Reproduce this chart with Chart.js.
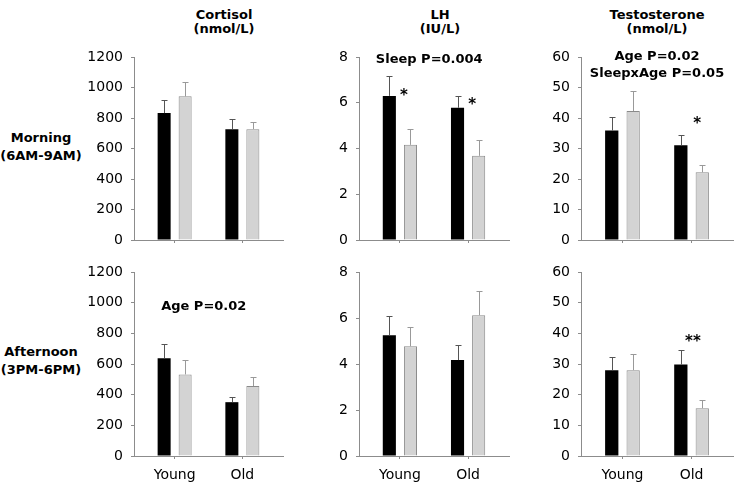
<!DOCTYPE html>
<html>
<head>
<meta charset="utf-8">
<script src="https://cdn.jsdelivr.net/npm/chart.js@4/dist/chart.umd.min.js"></script>
<style>
  body { margin: 0; background: #fff; }
  #wrap { position: relative; width: 736px; height: 486px; font-family: "DejaVu Sans", sans-serif; color: #000; }
  canvas { position: absolute; }
  .lbl { position: absolute; font-weight: bold; font-size: 13px; text-align: center; line-height: 14px; }
  .row { position: absolute; left: 0; width: 82px; font-weight: bold; font-size: 13px; text-align: center; line-height: 18px; }
</style>
</head>
<body>
<div id="wrap">
  <div class="lbl" style="left:174px; top:8px; width:100px;">Cortisol<br>(nmol/L)</div>
  <div class="lbl" style="left:390px; top:8px; width:100px;">LH<br>(IU/L)</div>
  <div class="lbl" style="left:597px; top:8px; width:120px;">Testosterone<br>(nmol/L)</div>
  <div class="row" style="top:129px;">Morning<br>(6AM-9AM)</div>
  <div class="row" style="top:343px;">Afternoon<br>(3PM-6PM)</div>
  <canvas id="c1" width="214" height="205" style="left:76px; top:45px;"></canvas>
  <canvas id="c2" width="215" height="205" style="left:300px; top:45px;"></canvas>
  <canvas id="c3" width="215" height="205" style="left:521px; top:45px;"></canvas>
  <canvas id="c4" width="214" height="226" style="left:76px; top:260px;"></canvas>
  <canvas id="c5" width="215" height="226" style="left:300px; top:260px;"></canvas>
  <canvas id="c6" width="215" height="226" style="left:521px; top:260px;"></canvas>
</div>
<script>
// groups on the x axis
const ageGroups = ['Young', 'Old'];

// black bars / grey bars, with the plus error of each
const cortisolMorningBlack = [832, 727];
const cortisolMorningBlackErr = [88, 66];
const cortisolMorningGrey = [942, 727];
const cortisolMorningGreyErr = [94, 46];

const lhMorningBlack = [6.3, 5.78];
const lhMorningBlackErr = [0.85, 0.53];
const lhMorningGrey = [4.16, 3.68];
const lhMorningGreyErr = [0.69, 0.68];

const testoMorningBlack = [35.9, 31.1];
const testoMorningBlackErr = [4.3, 3.4];
const testoMorningGrey = [42.3, 22.2];
const testoMorningGreyErr = [6.6, 2.3];

const cortisolAfternoonBlack = [637, 351];
const cortisolAfternoonBlackErr = [92, 37];
const cortisolAfternoonGrey = [532, 456];
const cortisolAfternoonGreyErr = [92, 61];

const lhAfternoonBlack = [5.25, 4.17];
const lhAfternoonBlackErr = [0.82, 0.67];
const lhAfternoonGrey = [4.77, 6.12];
const lhAfternoonGreyErr = [0.86, 1.05];

const testoAfternoonBlack = [28.0, 29.8];
const testoAfternoonBlackErr = [4.2, 4.9];
const testoAfternoonGrey = [28.0, 15.6];
const testoAfternoonGreyErr = [5.4, 2.5];

Chart.defaults.font.family = '"DejaVu Sans", sans-serif';
Chart.defaults.font.size = 14;
Chart.defaults.color = '#000';

const axisGrey = '#8c8c8c';

// plus-only error bars on top of each bar
const errorBars = {
  id: 'errorBars',
  afterDatasetsDraw(chart) {
    const ctx = chart.ctx;
    const y = chart.scales.y;
    chart.data.datasets.forEach((ds, i) => {
      chart.getDatasetMeta(i).data.forEach((bar, j) => {
        const top = Math.round(y.getPixelForValue(ds.data[j].y + ds.errors[j])) + 0.5;
        const cx = Math.round(bar.x) + 0.5;
        ctx.save();
        ctx.strokeStyle = ds.errorColor;
        ctx.lineWidth = 1;
        ctx.beginPath();
        ctx.moveTo(cx, bar.y);
        ctx.lineTo(cx, top);
        ctx.moveTo(cx - 3, top);
        ctx.lineTo(cx + 3, top);
        ctx.stroke();
        ctx.restore();
      });
    });
  }
};

// significance notes placed in data units
const notes = {
  id: 'notes',
  afterDraw(chart, args, opts) {
    const ctx = chart.ctx;
    (opts.items || []).forEach(n => {
      ctx.save();
      ctx.font = 'bold ' + (n.size || 13) + 'px "DejaVu Sans", sans-serif';
      ctx.fillStyle = '#000';
      ctx.textAlign = 'center';
      ctx.textBaseline = 'middle';
      ctx.fillText(n.text, chart.scales.x.getPixelForValue(n.x), chart.scales.y.getPixelForValue(n.y));
      ctx.restore();
    });
  }
};

function points(vals) {
  return vals.map((v, i) => ({ x: i, y: v }));
}

function makePanel(id, black, blackErr, grey, greyErr, yMax, step, yWidth, padRight, bottomRow, items) {
  new Chart(document.getElementById(id), {
    type: 'bar',
    data: {
      datasets: [
        {
          data: points(black), errors: blackErr, errorColor: '#555',
          backgroundColor: '#000', borderWidth: 0,
          categoryPercentage: 0.62, barPercentage: 0.62
        },
        {
          data: points(grey), errors: greyErr, errorColor: '#999',
          backgroundColor: '#d3d3d3', borderColor: '#8a8a8a', borderWidth: 1,
          categoryPercentage: 0.62, barPercentage: 0.62
        }
      ]
    },
    options: {
      responsive: false,
      animation: false,
      layout: { padding: { top: 12, right: padRight, bottom: 0, left: 0 } },
      plugins: { legend: { display: false }, tooltip: { enabled: false }, notes: { items: items } },
      scales: {
        x: {
          type: 'linear', min: -0.6, max: 1.6, offset: false, bounds: 'data',
          afterBuildTicks: s => { s.ticks = ageGroups.map((g, i) => ({ value: i })); },
          afterFit: s => { s.height = bottomRow ? 30 : 10; s.paddingLeft = 0; s.paddingRight = 0; },
          grid: { offset: false, drawOnChartArea: false, drawTicks: true, tickLength: 3, color: axisGrey },
          border: { color: axisGrey },
          ticks: {
            padding: 8,
            maxRotation: 0,
            autoSkip: false,
            callback: v => bottomRow ? ageGroups[v] : ''
          }
        },
        y: {
          min: 0, max: yMax,
          afterFit: s => { s.width = yWidth; s.paddingTop = 0; s.paddingBottom = 0; },
          grid: { drawOnChartArea: false, drawTicks: true, tickLength: 3, color: axisGrey },
          border: { color: axisGrey },
          ticks: { stepSize: step, padding: 8, callback: v => String(v) }
        }
      }
    },
    plugins: [errorBars, notes]
  });
}

makePanel('c1', cortisolMorningBlack, cortisolMorningBlackErr, cortisolMorningGrey, cortisolMorningGreyErr,
  1200, 200, 58, 7, false, []);
makePanel('c2', lhMorningBlack, lhMorningBlackErr, lhMorningGrey, lhMorningGreyErr,
  8, 2, 59, 6, false, [
    { text: 'Sleep P=0.004', x: 0.43, y: 7.87 },
    { text: '*', x: 0.06, y: 6.31, size: 15 },
    { text: '*', x: 1.06, y: 5.88, size: 15 }
  ]);
makePanel('c3', testoMorningBlack, testoMorningBlackErr, testoMorningGrey, testoMorningGreyErr,
  60, 10, 60, 3, false, [
    { text: 'Age P=0.02', x: 0.5, y: 60.05 },
    { text: 'SleepxAge P=0.05', x: 0.5, y: 54.4 },
    { text: '*', x: 1.08, y: 38.15, size: 15 }
  ]);
makePanel('c4', cortisolAfternoonBlack, cortisolAfternoonBlackErr, cortisolAfternoonGrey, cortisolAfternoonGreyErr,
  1200, 200, 58, 7, true, [
    { text: 'Age P=0.02', x: 0.43, y: 972 }
  ]);
makePanel('c5', lhAfternoonBlack, lhAfternoonBlackErr, lhAfternoonGrey, lhAfternoonGreyErr,
  8, 2, 59, 6, true, []);
makePanel('c6', testoAfternoonBlack, testoAfternoonBlackErr, testoAfternoonGrey, testoAfternoonGreyErr,
  60, 10, 60, 3, true, [
    { text: '**', x: 1.02, y: 37.15, size: 15 }
  ]);
</script>
</body>
</html>
